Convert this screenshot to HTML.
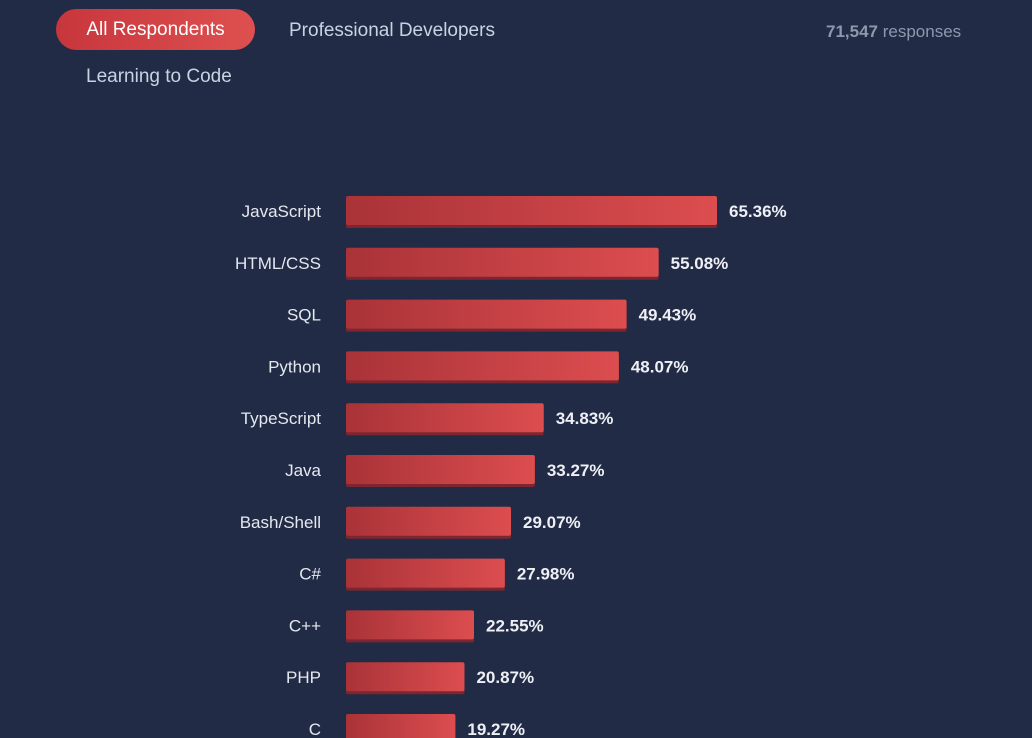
<!DOCTYPE html>
<html><head><meta charset="utf-8"><style>
body{margin:0;width:1032px;height:738px;overflow:hidden;background:#222b45;font-family:"Liberation Sans",sans-serif;position:relative}
.tab{position:absolute;font-size:19px;color:#c9d2e3}
#all{left:56px;top:9px;width:199px;height:41px;border-radius:21px;background:linear-gradient(90deg,#c7363c,#de5050);color:#fff;text-align:center;line-height:42px}
</style></head><body>
<div id="all" class="tab">All Respondents</div>
<div class="tab" style="left:289px;top:20px">Professional Developers</div>
<div class="tab" style="left:86px;top:66px">Learning to Code</div>
<div style="position:absolute;left:826px;top:22px;font-size:17px;color:#8e98ad"><b>71,547</b> responses</div>
<svg id="chart" width="1032" height="738" style="position:absolute;left:0;top:0">
<defs><linearGradient id="g" x1="0" x2="1"><stop offset="0" stop-color="#a93338"/><stop offset="1" stop-color="#dc4d4f"/></linearGradient></defs>
</svg>
<script>
const categories=["JavaScript","HTML/CSS","SQL","Python","TypeScript","Java","Bash/Shell","C#","C++","PHP","C"];
const values=[65.36,55.08,49.43,48.07,34.83,33.27,29.07,27.98,22.55,20.87,19.27];
const labels=["65.36%","55.08%","49.43%","48.07%","34.83%","33.27%","29.07%","27.98%","22.55%","20.87%","19.27%"];
const svg=document.getElementById('chart');const NS='http://www.w3.org/2000/svg';
const x0=346,k=371/65.36;
const x=v=>v*k;const y=i=>196+i*51.8;
categories.forEach((c,i)=>{
 const w=x(values[i]),t=y(i);
 const sh=document.createElementNS(NS,'rect');
 
 
 sh.setAttribute('x',x0);sh.setAttribute('y',t+2);sh.setAttribute('width',w);sh.setAttribute('height',30);sh.setAttribute('rx',2);sh.setAttribute('fill','#7e2630');svg.appendChild(sh);
 const r=document.createElementNS(NS,'rect');
 
 
 r.setAttribute('x',x0);r.setAttribute('y',t);r.setAttribute('width',w);r.setAttribute('height',29);r.setAttribute('rx',2);r.setAttribute('fill','url(#g)');svg.appendChild(r);
 const l=document.createElementNS(NS,'text');
 
 
 l.setAttribute('x',321);l.setAttribute('y',t+21);l.setAttribute('text-anchor','end');l.setAttribute('fill','#e4e8f0');l.setAttribute('font-size','17');l.textContent=c;svg.appendChild(l);
 const v=document.createElementNS(NS,'text');
 
 
 v.setAttribute('x',x0+w+12);v.setAttribute('y',t+21);v.setAttribute('fill','#eef0f5');v.setAttribute('font-size','17');v.setAttribute('font-weight','bold');v.textContent=labels[i];svg.appendChild(v);
});
</script>
</body></html>
